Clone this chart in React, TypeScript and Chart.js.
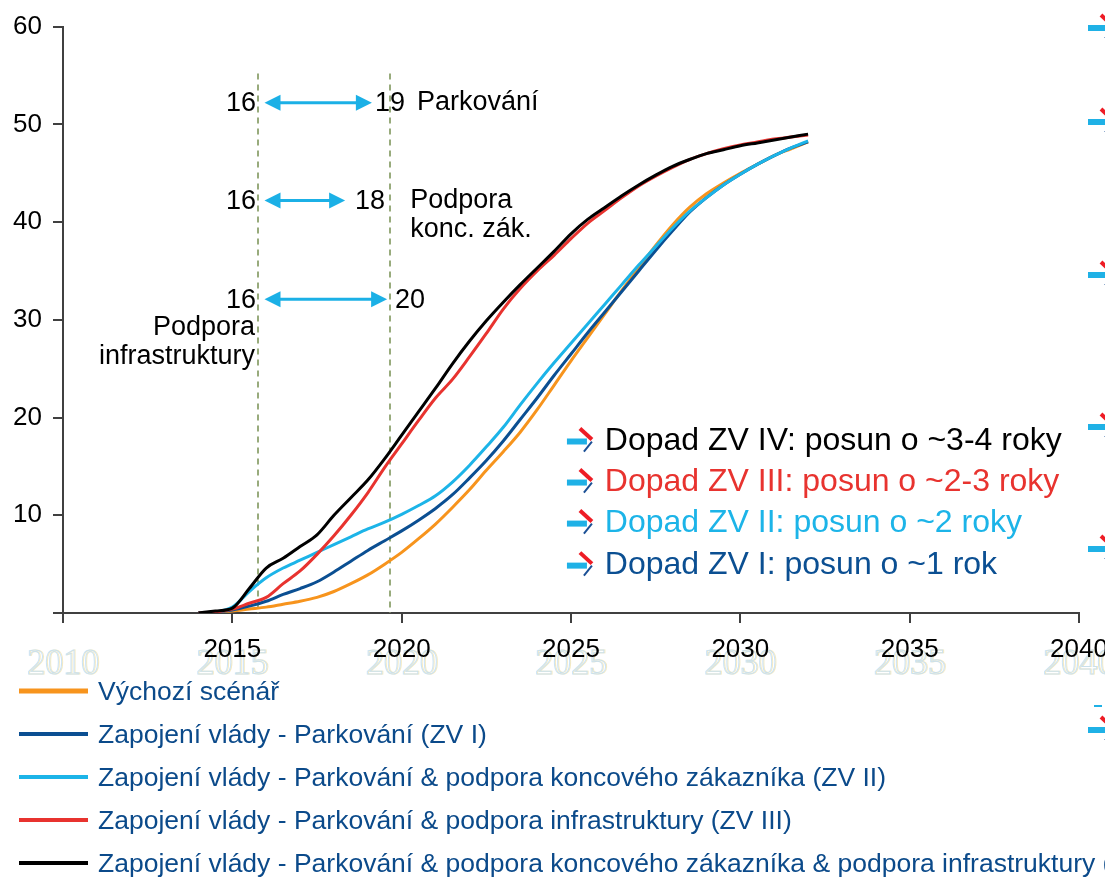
import React, { useEffect, useRef } from "react";
import { Chart, registerables } from "chart.js";

Chart.register(...registerables);

const FONT = "'Liberation Sans', Arial, sans-serif";

// ---- data ----
const years = [
  2014, 2014.5, 2015, 2015.5, 2016, 2016.5, 2017, 2017.5, 2018, 2018.5,
  2019, 2019.5, 2020, 2020.5, 2021, 2021.5, 2022, 2022.5, 2023, 2023.5,
  2024, 2024.5, 2025, 2025.5, 2026, 2026.5, 2027, 2027.5, 2028, 2028.5,
  2029, 2029.5, 2030, 2030.5, 2031, 2031.5, 2032,
];
const baseline = [
  0, 0.1, 0.2, 0.4, 0.6, 0.9, 1.2, 1.6, 2.2, 3.0,
  3.9, 5.0, 6.2, 7.6, 9.1, 10.8, 12.6, 14.6, 16.5, 18.5,
  20.8, 23.3, 25.8, 28.2, 30.6, 33.0, 35.3, 37.6, 39.7, 41.5,
  42.9, 44.0, 45.0, 45.9, 46.8, 47.5, 48.2,
];
const zvI = [
  0, 0.1, 0.3, 0.7, 1.2, 1.9, 2.5, 3.2, 4.2, 5.3,
  6.4, 7.4, 8.4, 9.5, 10.7, 12.1, 13.8, 15.6, 17.6, 19.8,
  22.0, 24.3, 26.5, 28.7, 30.8, 32.9, 35.0, 37.1, 39.1, 41.0,
  42.5, 43.8, 44.9, 45.9, 46.8, 47.6, 48.2,
];
const zvII = [
  0, 0.1, 0.6, 2.2, 3.6, 4.6, 5.4, 6.2, 7.0, 7.8,
  8.6, 9.3, 10.1, 11.0, 12.0, 13.4, 15.1, 17.0, 19.0, 21.3,
  23.5, 25.6, 27.6, 29.6, 31.6, 33.6, 35.6, 37.5, 39.4, 41.1,
  42.5, 43.8, 44.9, 45.9, 46.8, 47.6, 48.3,
];
const zvIII = [
  0, 0.1, 0.4, 1.0, 1.6, 3.0, 4.3, 6.0, 7.9, 10.0,
  12.3, 14.9, 17.3, 19.7, 22.0, 23.9, 26.2, 28.6, 31.1, 33.2,
  35.0, 36.6, 38.3, 39.9, 41.2, 42.5, 43.7, 44.7, 45.6, 46.4,
  47.0, 47.5, 47.9, 48.2, 48.5, 48.7, 48.9,
];
const zvIV = [
  0, 0.2, 0.5, 2.5, 4.6, 5.6, 6.8, 8.0, 10.0, 11.8,
  13.6, 15.8, 18.2, 20.6, 23.0, 25.5, 27.8, 29.9, 31.8, 33.6,
  35.3, 37.0, 38.8, 40.3, 41.5, 42.7, 43.8, 44.8, 45.7, 46.4,
  47.0, 47.4, 47.8, 48.1, 48.4, 48.7, 49.0,
];

const seriesLabels = [
  "Výchozí scénář",
  "Zapojení vlády - Parkování (ZV I)",
  "Zapojení vlády - Parkování & podpora koncového zákazníka (ZV II)",
  "Zapojení vlády - Parkování & podpora infrastruktury (ZV III)",
  "Zapojení vlády - Parkování & podpora koncového zákazníka & podpora infrastruktury (ZV IV)",
];
const seriesColors = ["#f7941d", "#0b4f92", "#1cb4e8", "#e8332f", "#000000"];
const seriesValues = [baseline, zvI, zvII, zvIII, zvIV];

const xTickLabels = ["", "2015", "2020", "2025", "2030", "2035", "2040"];
const ghostLabels = ["2010", "2015", "2020", "2025", "2030", "2035", "2040"];
const yTickLabels = ["", "10", "20", "30", "40", "50", "60"];

const impactTexts = [
  "Dopad ZV IV: posun o ~3-4 roky",
  "Dopad ZV III: posun o ~2-3 roky",
  "Dopad ZV II: posun o ~2 roky",
  "Dopad ZV I: posun o ~1 rok",
];
const impactColors = ["#000000", "#e8332f", "#1cb4e8", "#0b4f92"];

const shiftStartLabels = ["16", "16", "16"];
const shiftEndLabels = ["19", "18", "20"];
const shiftNames = [["Parkování"], ["Podpora", "konc. zák."], ["Podpora", "infrastruktury"]];

function drawBullet(ctx: CanvasRenderingContext2D, x: number, c: number) {
  ctx.save();
  ctx.lineCap = "butt";
  ctx.strokeStyle = "#1fb1e6";
  ctx.lineWidth = 6;
  ctx.beginPath();
  ctx.moveTo(x, c + 4);
  ctx.lineTo(x + 20, c + 4);
  ctx.stroke();
  ctx.strokeStyle = "#ee1c25";
  ctx.lineWidth = 4;
  ctx.beginPath();
  ctx.moveTo(x + 13, c - 9);
  ctx.lineTo(x + 25, c + 2);
  ctx.stroke();
  ctx.strokeStyle = "#1a4f95";
  ctx.lineWidth = 2;
  ctx.beginPath();
  ctx.moveTo(x + 25, c + 4);
  ctx.lineTo(x + 17, c + 14);
  ctx.stroke();
  ctx.restore();
}

function drawDoubleArrow(ctx: CanvasRenderingContext2D, x1: number, x2: number, y: number) {
  const head = 16;
  const half = 8;
  ctx.save();
  ctx.strokeStyle = "#1bb0e6";
  ctx.fillStyle = "#1bb0e6";
  ctx.lineWidth = 3;
  ctx.beginPath();
  ctx.moveTo(x1 + head - 2, y);
  ctx.lineTo(x2 - head + 2, y);
  ctx.stroke();
  ctx.beginPath();
  ctx.moveTo(x1, y);
  ctx.lineTo(x1 + head, y - half);
  ctx.lineTo(x1 + head, y + half);
  ctx.closePath();
  ctx.fill();
  ctx.beginPath();
  ctx.moveTo(x2, y);
  ctx.lineTo(x2 - head, y - half);
  ctx.lineTo(x2 - head, y + half);
  ctx.closePath();
  ctx.fill();
  ctx.restore();
}

export default function App() {
  const ref = useRef<HTMLCanvasElement>(null);

  useEffect(() => {
    const canvas = ref.current;
    if (!canvas) return;

    const ghostPlugin = {
      id: "ghost",
      beforeDraw(chart: any) {
        const ctx = chart.ctx as CanvasRenderingContext2D;
        const xs = chart.scales.x;
        ctx.save();
        ctx.font = "36px 'Liberation Serif', serif";
        ctx.textAlign = "center";
        ctx.textBaseline = "middle";
        ghostLabels.forEach((t, i) => {
          const x = xs.getPixelForValue(2010 + i * 5);
          ctx.lineWidth = 1;
          ctx.strokeStyle = "rgba(240,225,170,0.7)";
          ctx.strokeText(t, x + 1, 665);
          ctx.strokeStyle = "rgba(195,222,242,0.85)";
          ctx.strokeText(t, x, 665);
        });
        ctx.restore();
      },
    };

    const markerPlugin = {
      id: "markers",
      beforeDatasetsDraw(chart: any) {
        const ctx = chart.ctx as CanvasRenderingContext2D;
        const xs = chart.scales.x;
        const ys = chart.scales.y;
        ctx.save();
        ctx.strokeStyle = "#98ab7c";
        ctx.lineWidth = 2;
        ctx.setLineDash([6, 5]);
        [2015.75, 2019.65].forEach((yr) => {
          const x = Math.round(xs.getPixelForValue(yr));
          ctx.beginPath();
          ctx.moveTo(x, ys.getPixelForValue(55.2));
          ctx.lineTo(x, ys.getPixelForValue(0));
          ctx.stroke();
        });
        ctx.restore();
      },
    };

    const overlayPlugin = {
      id: "overlay",
      afterDraw(chart: any) {
        const ctx = chart.ctx as CanvasRenderingContext2D;
        const xs = chart.scales.x;
        const ys = chart.scales.y;
        const px = (v: number) => xs.getPixelForValue(v);
        const py = (v: number) => ys.getPixelForValue(v);
        ctx.save();
        ctx.textBaseline = "middle";

        // shift arrows
        const rowValues = [52.2, 42.2, 32.1];
        const endYears = [2019.12, 2018.33, 2019.57];
        const endLabelYears = [2019.21, 2018.62, 2019.8];
        ctx.font = `27px ${FONT}`;
        ctx.fillStyle = "#000";
        rowValues.forEach((v, i) => {
          const y = py(v);
          drawDoubleArrow(ctx, px(2015.95), px(endYears[i]), y);
          ctx.textAlign = "right";
          ctx.fillText(shiftStartLabels[i], px(2015.7), y + 1);
          ctx.textAlign = "left";
          ctx.fillText(shiftEndLabels[i], px(endLabelYears[i]), y + 1);
        });
        ctx.textAlign = "left";
        ctx.fillText(shiftNames[0][0], px(2020.45), py(52.2));
        ctx.fillText(shiftNames[1][0], px(2020.25), py(42.2));
        ctx.fillText(shiftNames[1][1], px(2020.25), py(39.2));
        ctx.textAlign = "right";
        ctx.fillText(shiftNames[2][0], px(2015.67), py(29.2));
        ctx.fillText(shiftNames[2][1], px(2015.67), py(26.2));

        // impact texts
        const impactValues = [17.65, 13.45, 9.25, 4.95];
        ctx.font = `32px ${FONT}`;
        ctx.textAlign = "left";
        impactTexts.forEach((t, i) => {
          const y = py(impactValues[i]);
          drawBullet(ctx, px(2024.88), y - 3);
          ctx.fillStyle = impactColors[i];
          ctx.fillText(t, px(2026.0), y + 1);
        });

        // clipped bullets at right edge
        [24, 118, 271, 423, 545, 726].forEach((c) => drawBullet(ctx, 1088, c));
        ctx.strokeStyle = "#1fb1e6";
        ctx.lineWidth = 2;
        ctx.beginPath();
        ctx.moveTo(1094, 706);
        ctx.lineTo(1102, 706);
        ctx.stroke();

        // legend
        ctx.font = `26.5px ${FONT}`;
        ctx.textAlign = "left";
        seriesLabels.forEach((label, i) => {
          const y = 691 + i * 43;
          ctx.strokeStyle = seriesColors[i];
          ctx.lineWidth = i === 0 ? 5 : 4;
          ctx.beginPath();
          ctx.moveTo(19, y);
          ctx.lineTo(88, y);
          ctx.stroke();
          ctx.fillStyle = "#0b4a8a";
          ctx.fillText(label, 98, y + 2);
        });
        ctx.restore();
      },
    };

    const datasets = seriesValues.map((vals, i) => ({
      label: seriesLabels[i],
      data: years.map((yr, j) => ({ x: yr, y: vals[j] })),
      borderColor: seriesColors[i],
      backgroundColor: seriesColors[i],
      borderWidth: 3,
      pointRadius: 0,
      fill: false,
      cubicInterpolationMode: "monotone" as const,
      order: 5 - i,
    }));

    const chart = new Chart(canvas, {
      type: "line",
      data: { datasets },
      options: {
        animation: false,
        responsive: false,
        devicePixelRatio: 1,
        layout: { padding: { top: 25, right: 26, bottom: 0, left: 0 } },
        plugins: { legend: { display: false }, tooltip: { enabled: false } },
        events: [],
        scales: {
          x: {
            type: "linear",
            min: 2010,
            max: 2040,
            ticks: {
              stepSize: 5,
              autoSkip: false,
              maxRotation: 0,
              padding: 11,
              color: "#000",
              font: { size: 26, family: FONT },
              callback: (_v: any, i: number) => xTickLabels[i],
            },
            grid: { drawOnChartArea: false, drawTicks: true, tickLength: 10, color: "#404040", lineWidth: 2 },
            border: { display: true, color: "#404040", width: 2 },
            afterFit: (s: any) => {
              s.height = 265;
              s.paddingLeft = 0;
              s.paddingRight = 0;
            },
          },
          y: {
            type: "linear",
            min: 0,
            max: 60,
            ticks: {
              stepSize: 10,
              padding: 11,
              color: "#000",
              font: { size: 26, family: FONT },
              callback: (_v: any, i: number) => yTickLabels[i],
            },
            grid: { drawOnChartArea: false, drawTicks: true, tickLength: 10, color: "#404040", lineWidth: 2 },
            border: { display: true, color: "#404040", width: 2 },
            afterFit: (s: any) => {
              s.width = 63;
            },
          },
        },
      },
      plugins: [ghostPlugin, markerPlugin, overlayPlugin],
    } as any);

    return () => chart.destroy();
  }, []);

  return (
    <div style={{ position: "fixed", left: 0, top: 0, width: 1105, height: 878, background: "#fff", overflow: "hidden" }}>
      <canvas ref={ref} width={1105} height={878} style={{ width: 1105, height: 878, display: "block" }} />
    </div>
  );
}
